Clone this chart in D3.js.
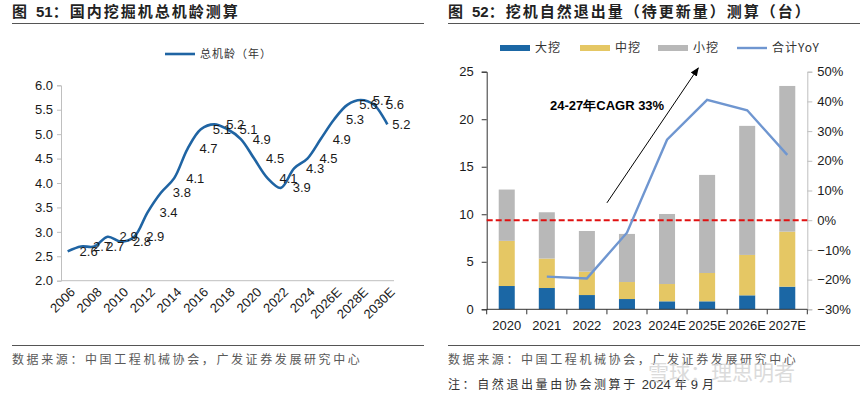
<!DOCTYPE html>
<html>
<head>
<meta charset="utf-8">
<script src="https://cdn.jsdelivr.net/npm/d3@7"></script>
<style>
  body { margin: 0; background: #fff; }
  svg { display: block; font-family: "Liberation Sans", Arial, sans-serif; }
  .cjk { font-family: "Noto Sans CJK SC", sans-serif; }
</style>
</head>
<body>
<svg id="chart" width="865" height="397"></svg>
<script>
// left chart: total fleet age
const ageYears = ['2006','2007','2008','2009','2010','2011','2012','2013','2014','2015','2016','2017','2018',
  '2019','2020','2021','2022','2023','2024','2025E','2026E','2027E','2028E','2029E','2030E'];
const ageValues = [2.6, 2.7, 2.7, 2.9, 2.8, 2.9, 3.4, 3.8, 4.1, 4.7, 5.1, 5.2, 5.1,
  4.9, 4.5, 4.1, 3.9, 4.3, 4.5, 4.9, 5.3, 5.6, 5.7, 5.6, 5.2];
const ageTickYears = ['2006','2008','2010','2012','2014','2016','2018','2020','2022','2024','2026E','2028E','2030E'];

// right chart: natural retirement volume
const exitYears = ['2020','2021','2022','2023','2024E','2025E','2026E','2027E'];
const bigExc = [2.45, 2.24, 1.50, 1.08, 0.84, 0.84, 1.47, 2.38];
const midExc = [4.75, 3.10, 2.46, 1.79, 1.82, 2.98, 4.25, 5.79];
const smallExc = [5.40, 4.87, 4.28, 5.06, 7.37, 10.32, 13.58, 15.33];
const yoyYears = ['2021','2022','2023','2024E','2025E','2026E','2027E'];
const yoyValues = [-0.19, -0.196, -0.042, 0.271, 0.405, 0.37, 0.22];
const seriesNames = ['大挖', '中挖', '小挖', '合计YoY'];

const svg = d3.select('#chart');
const axisGray = '#bfbfbf';
const textDark = '#1a1a1a';

// ---------- headers / footers ----------
function header(x0, x1, num, text) {
  const t = svg.append('text').attr('x', x0).attr('y', 17)
    .attr('class', 'cjk').attr('font-size', 15).attr('font-weight', 700).attr('fill', '#222');
  t.append('tspan').text('图');
  t.append('tspan').attr('dx', 9).attr('font-family', '"Liberation Sans", Arial, sans-serif').text(num);
  t.append('tspan').attr('letter-spacing', 2).text(text);
  svg.append('line').attr('x1', x0).attr('x2', x1).attr('y1', 23.5).attr('y2', 23.5)
    .attr('stroke', '#555').attr('stroke-width', 1.2);
  svg.append('line').attr('x1', x0).attr('x2', x1).attr('y1', 345.5).attr('y2', 345.5)
    .attr('stroke', '#555').attr('stroke-width', 1.2);
}
header(12, 424, '51', '：国内挖掘机总机龄测算');
header(448, 860, '52', '：挖机自然退出量（待更新量）测算（台）');

[12, 448].forEach((x) => {
  svg.append('text').attr('class', 'cjk').attr('x', x).attr('y', 364)
    .attr('font-size', 12).attr('letter-spacing', 2.6).attr('fill', '#595959')
    .text('数据来源：中国工程机械协会，广发证券发展研究中心');
});
const note = svg.append('text').attr('class', 'cjk').attr('x', 448).attr('y', 389)
  .attr('font-size', 12).attr('fill', '#333');
note.append('tspan').attr('letter-spacing', 2.6).text('注：自然退出量由协会测算于');
note.append('tspan').attr('dx', 4).attr('font-family', '"Liberation Sans", Arial, sans-serif').attr('font-size', 13).text('2024');
note.append('tspan').attr('dx', 4).text('年');
note.append('tspan').attr('dx', 4).attr('font-family', '"Liberation Sans", Arial, sans-serif').attr('font-size', 13).text('9');
note.append('tspan').attr('dx', 4).text('月');

// ---------- left chart ----------
const xA = d3.scaleBand().domain(ageYears).range([61, 394]);
const yA = d3.scaleLinear().domain([2, 6]).range([280.7, 85.3]);

const gAy = svg.append('g').attr('transform', 'translate(61,0)')
  .call(d3.axisLeft(yA).tickValues(d3.range(2, 6.01, 0.5)).tickFormat(d3.format('.1f')).tickSize(4).tickPadding(4));
gAy.select('.domain').attr('stroke', axisGray);
gAy.selectAll('.tick line').attr('stroke', axisGray);
gAy.selectAll('.tick text').attr('font-size', 13).attr('fill', textDark).attr('font-family', '"Liberation Sans", Arial, sans-serif');

svg.append('line').attr('x1', 61).attr('x2', 394).attr('y1', yA(2)).attr('y2', yA(2)).attr('stroke', axisGray);

svg.append('g').selectAll('text').data(ageTickYears).join('text')
  .attr('transform', (d) => `translate(${xA(d) + xA.bandwidth() / 2 + 5},${yA(2) + 9}) rotate(-45)`)
  .attr('text-anchor', 'end').attr('dy', '0.35em')
  .attr('font-size', 13).attr('fill', textDark)
  .text((d) => d);

const ageLine = d3.line()
  .x((d, i) => xA(ageYears[i]) + xA.bandwidth() / 2)
  .y((d) => yA(d))
  .curve(d3.curveCatmullRom.alpha(0.5));
svg.append('path').datum(ageValues)
  .attr('d', ageLine).attr('fill', 'none')
  .attr('stroke', '#1f64a3').attr('stroke-width', 2.6);

svg.append('g').selectAll('text').data(ageValues).join('text')
  .attr('x', (d, i) => xA(ageYears[i]) + xA.bandwidth() / 2 + (i === ageValues.length - 1 ? 14 : 21))
  .attr('y', (d) => yA(d))
  .attr('dy', '0.35em').attr('text-anchor', 'middle')
  .attr('font-size', 13).attr('fill', textDark)
  .text((d) => d.toFixed(1));

// legend left
svg.append('line').attr('x1', 165).attr('x2', 195).attr('y1', 54).attr('y2', 54)
  .attr('stroke', '#1f64a3').attr('stroke-width', 2.6);
svg.append('text').attr('class', 'cjk').attr('x', 200).attr('y', 58)
  .attr('font-size', 11).attr('letter-spacing', 1).attr('fill', '#333').text('总机龄（年）');

// ---------- right chart ----------
const xB = d3.scaleBand().domain(exitYears).range([486.7, 807.3]).paddingInner(0.6).paddingOuter(0.3);
const yB = d3.scaleLinear().domain([0, 25]).range([309.3, 71.7]);
const yR = d3.scaleLinear().domain([-0.3, 0.5]).range([309.3, 71.7]);
const colors = ['#1b67a5', '#e5c764', '#b8b8b8'];
const lineBlue = '#6f96d0';

const stackRows = exitYears.map((yr, i) => ({ year: yr, big: bigExc[i], mid: midExc[i], small: smallExc[i] }));
const stacked = d3.stack().keys(['big', 'mid', 'small'])(stackRows);

svg.append('g').selectAll('g').data(stacked).join('g')
  .attr('fill', (d, i) => colors[i])
  .selectAll('rect').data((d) => d).join('rect')
  .attr('x', (d) => xB(d.data.year))
  .attr('width', xB.bandwidth())
  .attr('y', (d) => yB(d[1]))
  .attr('height', (d) => yB(d[0]) - yB(d[1]));

const gBy = svg.append('g').attr('transform', 'translate(486.7,0)')
  .call(d3.axisLeft(yB).tickValues(d3.range(0, 26, 5)).tickSize(5).tickPadding(8));
gBy.select('.domain').attr('stroke', '#333');
gBy.selectAll('.tick line').attr('stroke', '#333');
gBy.selectAll('.tick text').attr('font-size', 13).attr('fill', textDark).attr('font-family', '"Liberation Sans", Arial, sans-serif');

const gBr = svg.append('g').attr('transform', 'translate(807.3,0)')
  .call(d3.axisRight(yR).tickValues(d3.range(-0.3, 0.51, 0.1)).tickFormat(d3.format('.0%')).tickSize(5).tickPadding(5));
gBr.select('.domain').attr('stroke', axisGray);
gBr.selectAll('.tick line').attr('stroke', axisGray);
gBr.selectAll('.tick text').attr('font-size', 13).attr('fill', textDark).attr('font-family', '"Liberation Sans", Arial, sans-serif');

// x axis with ticks between categories
const stepB = xB.step();
const firstEdge = xB(exitYears[0]) - xB.paddingInner() * stepB / 2;
const gBx = svg.append('g');
gBx.append('line').attr('x1', 486.7).attr('x2', 807.3).attr('y1', yB(0)).attr('y2', yB(0)).attr('stroke', '#333');
gBx.selectAll('line.tk').data(d3.range(exitYears.length + 1)).join('line').attr('class', 'tk')
  .attr('x1', (i) => firstEdge + i * stepB).attr('x2', (i) => firstEdge + i * stepB)
  .attr('y1', yB(0)).attr('y2', yB(0) + 5).attr('stroke', '#333');
gBx.selectAll('text').data(exitYears).join('text')
  .attr('x', (d) => xB(d) + xB.bandwidth() / 2).attr('y', yB(0) + 21)
  .attr('text-anchor', 'middle').attr('font-size', 13).attr('fill', textDark).text((d) => d);

// zero reference (dashed red)
svg.append('line').attr('x1', 486.7).attr('x2', 807.3).attr('y1', yR(0)).attr('y2', yR(0))
  .attr('stroke', '#e01010').attr('stroke-width', 2).attr('stroke-dasharray', '6,3');

const yoyLine = d3.line()
  .x((d, i) => xB(yoyYears[i]) + xB.bandwidth() / 2)
  .y((d) => yR(d));
svg.append('path').datum(yoyValues).attr('d', yoyLine)
  .attr('fill', 'none').attr('stroke', lineBlue).attr('stroke-width', 2.4);

// CAGR annotation arrow
const xIdx = (i) => xB(exitYears[0]) + xB.bandwidth() / 2 + i * stepB;
svg.append('defs').append('marker').attr('id', 'arr')
  .attr('viewBox', '0 0 10 10').attr('refX', 9).attr('refY', 5)
  .attr('markerWidth', 9).attr('markerHeight', 9).attr('orient', 'auto')
  .append('path').attr('d', 'M0,1 L10,5 L0,9 Z').attr('fill', '#000');
svg.append('line')
  .attr('x1', xIdx(2.5)).attr('y1', yB(11.2))
  .attr('x2', xIdx(4.78)).attr('y2', yB(25.4))
  .attr('stroke', '#000').attr('stroke-width', 1).attr('marker-end', 'url(#arr)');
svg.append('text').attr('x', 550).attr('y', 110)
  .attr('font-size', 13).attr('font-weight', 700).attr('fill', '#000')
  .text('24-27年CAGR 33%');

// legend right
const legendX = [500, 580, 658, 737];
seriesNames.forEach((name, i) => {
  if (i < 3) {
    svg.append('rect').attr('x', legendX[i]).attr('y', 45).attr('width', 30).attr('height', 6).attr('fill', colors[i]);
  } else {
    svg.append('line').attr('x1', legendX[i]).attr('x2', legendX[i] + 30).attr('y1', 48).attr('y2', 48)
      .attr('stroke', lineBlue).attr('stroke-width', 2.4);
  }
  svg.append('text').attr('class', 'cjk').attr('x', legendX[i] + 35).attr('y', 52)
    .attr('font-size', 12).attr('letter-spacing', 1).attr('fill', '#333').text(name);
});

// watermark
svg.append('text').attr('class', 'cjk').attr('x', 648).attr('y', 380)
  .attr('font-size', 21).attr('fill', '#cfcfcf').attr('opacity', 0.75).text('雪球：理思明者');
</script>
</body>
</html>
